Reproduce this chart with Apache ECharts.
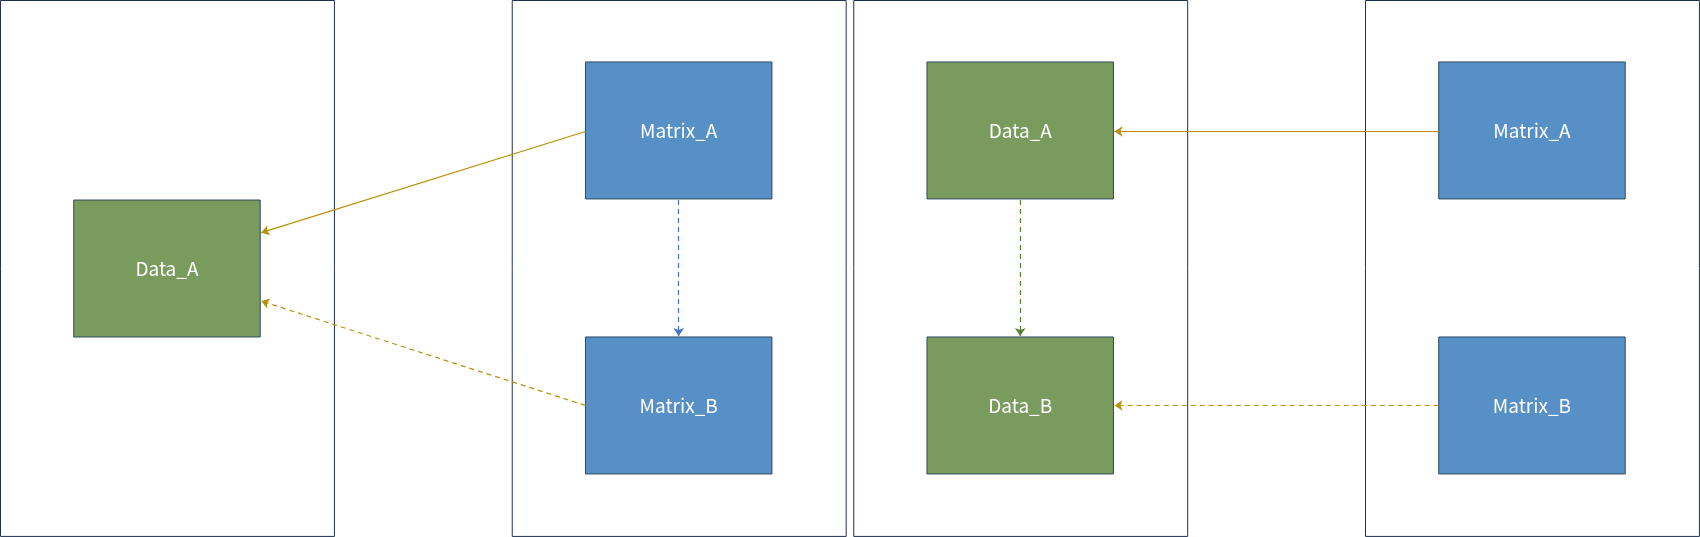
<!DOCTYPE html>
<html><head><meta charset="utf-8">
<script src="https://cdn.jsdelivr.net/npm/echarts@6/dist/echarts.min.js"></script>
<style>html,body{margin:0;padding:0;background:#fff}#main{width:1700px;height:537px}</style>
</head><body><div id="main"></div>
<script>
// panels: [x0, x1]
var panels = [[0, 308], [472, 780], [787, 1095], [1259, 1567]]
// boxes: [x0, y0, x1, y1, label, kind]
var boxes = [
    [68, 184, 240, 310, "Data_A", "data"],
    [540, 57, 712, 183, "Matrix_A", "matrix"],
    [540, 310, 712, 436, "Matrix_B", "matrix"],
    [855, 57, 1027, 183, "Data_A", "data"],
    [855, 310, 1027, 436, "Data_B", "data"],
    [1327, 57, 1499, 183, "Matrix_A", "matrix"],
    [1327, 310, 1499, 436, "Matrix_B", "matrix"]
]
// arrows: [from, to, colour, dashed]
var arrows = [
    [[540, 121], [241, 214], "#B8900A", false],
    [[540, 373], [241, 277], "#B8900A", true],
    [[626, 184], [626, 309], "#4472C4", true],
    [[941, 184], [941, 309], "#548235", true],
    [[1327, 121], [1028, 121], "#B8900A", false],
    [[1327, 373], [1028, 373], "#B8900A", true]
]
var fills = { data: "#799B5D", matrix: "#5790C6" }

var chart = echarts.init(document.getElementById("main"))
chart.setOption({
    animation: false,
    grid: { left: 0, right: 0, top: 0, bottom: 0 },
    xAxis: { type: "value", min: 0, max: 1568, show: false },
    yAxis: { type: "value", min: 0, max: 494, inverse: true, show: false },
    series: [{
        type: "custom",
        data: panels,
        renderItem: function (params, api) {
            var a = api.coord([api.value(0), 0])
            var b = api.coord([api.value(1), 493])
            return { type: "rect", shape: { x: a[0] + 0.5, y: a[1] + 0.5, width: b[0] - a[0], height: b[1] - a[1] },
                style: { fill: "#fff", stroke: "#1F3050", lineWidth: 1 } }
        }
    }, {
        type: "custom",
        data: boxes,
        renderItem: function (params, api) {
            var d = boxes[params.dataIndex]
            var a = api.coord([d[0], d[1]])
            var b = api.coord([d[2], d[3]])
            return { type: "group", children: [
                { type: "rect", shape: { x: a[0], y: a[1], width: b[0] - a[0], height: b[1] - a[1] },
                  style: { fill: fills[d[5]], stroke: "#2E4A62", lineWidth: 1 } },
                { type: "text", x: (a[0] + b[0]) / 2, y: (a[1] + b[1]) / 2,
                  style: { text: d[4], fill: "#fff", fontSize: 19, fontFamily: "Noto Sans CJK SC", align: "center", verticalAlign: "middle" } }
            ] }
        }
    }].concat(arrows.map(function (ar) {
        return {
            type: "lines",
            coordinateSystem: "cartesian2d",
            symbol: ["none", "arrow"],
            symbolSize: 8,
            lineStyle: { color: ar[2], width: 1.2, type: ar[3] ? [5, 4] : "solid", opacity: 1 },
            data: [{ coords: [ar[0], ar[1]] }]
        }
    }))
})
</script></body></html>
